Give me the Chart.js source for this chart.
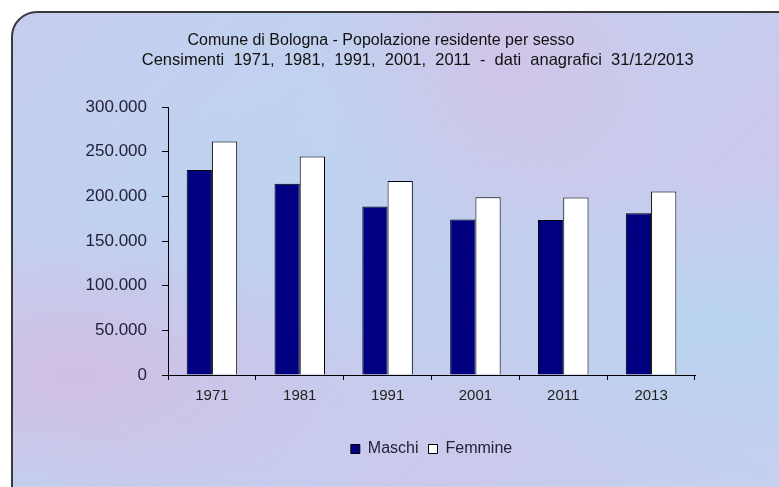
<!DOCTYPE html>
<html>
<head>
<meta charset="utf-8">
<script src="https://cdn.jsdelivr.net/npm/chart.js@4/dist/chart.umd.min.js"></script>
<style>
  body { margin: 0; background: #fff; overflow: hidden; }
  #frame {
    position: absolute; left: 11px; top: 11px; width: 820px; height: 520px;
    border: 2px solid #3a3a3a; border-radius: 26px;
    background:
      radial-gradient(ellipse at 8% 70%, rgba(214,186,226,0.8), rgba(214,186,226,0) 30%),
      radial-gradient(ellipse at 60% 8%, rgba(216,190,228,0.7), rgba(216,190,228,0) 28%),
      radial-gradient(ellipse at 85% 60%, rgba(180,214,240,0.8), rgba(180,214,240,0) 35%),
      radial-gradient(ellipse at 35% 45%, rgba(190,208,240,0.8), rgba(190,208,240,0) 40%),
      linear-gradient(135deg, #c6cdee 0%, #bfd3f0 35%, #cbc9ec 65%, #c2d2ef 100%);
  }
  #wrap { position: absolute; left: 0; top: 0; width: 779px; height: 487px; }
</style>
</head>
<body>
<div id="frame"></div>
<div id="wrap"><canvas id="chart" width="779" height="487"></canvas></div>
<script>
var anni = ['1971', '1981', '1991', '2001', '2011', '2013'];
var maschi = [229500, 214200, 188500, 174000, 173500, 181000];
var femmine = [261300, 244500, 217200, 198900, 198600, 205300];
var titolo = 'Comune di Bologna - Popolazione residente per sesso';
var sottotitolo = 'Censimenti 1971, 1981, 1991, 2001, 2011 - dati anagrafici 31/12/2013';

var FONT = "'Liberation Sans', Arial, sans-serif";
Chart.defaults.font.family = FONT;

// spazi larghi come nell'originale; quelli in testa spostano il centro a destra
var NB = '\u00A0';
var riga2 = NB.repeat(16) + sottotitolo.split(' ').join(NB + NB);

function migliaia(v) {
  return String(v).replace(/\B(?=(\d{3})+(?!\d))/g, '.');
}

var ctx = document.getElementById('chart');
var chart = new Chart(ctx, {
  type: 'bar',
  data: {
    labels: anni,
    datasets: [{
      label: 'Maschi',
      data: maschi,
      backgroundColor: '#000080',
      borderColor: '#000',
      borderWidth: 1,
      barPercentage: 1,
      categoryPercentage: 0.575
    }, {
      label: 'Femmine',
      data: femmine,
      backgroundColor: '#ffffff',
      borderColor: '#000',
      borderWidth: 1,
      barPercentage: 1,
      categoryPercentage: 0.575
    }]
  },
  options: {
    responsive: false,
    animation: false,
    layout: { padding: { left: 0, right: 17, top: 0, bottom: 20 } },
    plugins: {
      title: {
        display: true,
        text: titolo,
        color: '#111',
        font: { size: 16, weight: 'normal' },
        padding: { top: 31, bottom: 0 }
      },
      subtitle: {
        display: true,
        text: riga2,
        color: '#111',
        font: { size: 16.5 },
        padding: { top: 0, bottom: 37 }
      },
      legend: {
        position: 'bottom',
        fullSize: false,
        labels: {
          boxWidth: 9,
          boxHeight: 9,
          color: '#222238',
          font: { size: 16 },
          padding: 10
        }
      },
      tooltip: { enabled: false }
    },
    scales: {
      x: {
        ticks: { color: '#222', font: { size: 15 }, padding: 7 },
        grid: { drawOnChartArea: false, tickLength: 5, color: '#000' },
        border: { color: '#000', width: 1 },
        afterFit: function (s) { s.height = 56; }
      },
      y: {
        min: 0,
        max: 300000,
        ticks: { stepSize: 50000, color: '#222238', font: { size: 17 }, padding: 15, callback: migliaia },
        grid: { drawOnChartArea: false, tickLength: 6, color: '#000' },
        border: { color: '#000', width: 1 },
        afterFit: function (s) { s.width = 168; }
      },
      yR: {
        position: 'right',
        display: true,
        grid: { display: false },
        ticks: { display: false },
        border: { display: false },
        afterFit: function (s) { s.width = 67; }
      }
    }
  }
});
</script>
</body>
</html>
